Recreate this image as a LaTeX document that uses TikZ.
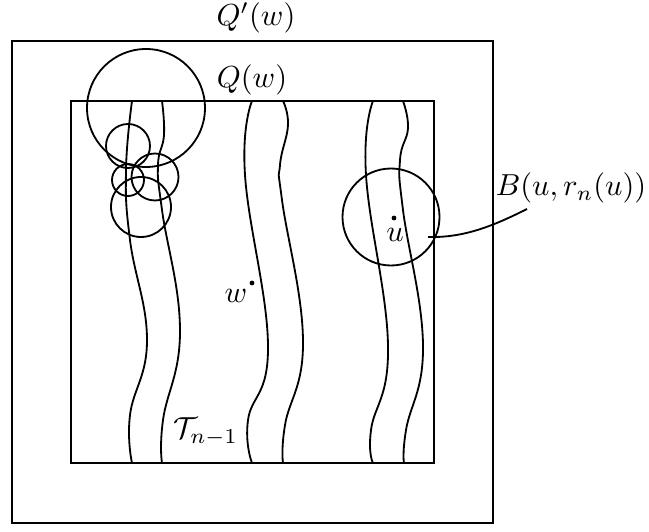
\documentclass[tikz,border=0pt]{standalone}
\usetikzlibrary{positioning}
\tikzset{
  cube/.style={semithick},
  tube/.style={semithick},
  ball/.style={semithick},
  spot/.style={fill},
  lbl/.style={inner sep=0pt}
}
\begin{document}
\begin{tikzpicture}[x=0.329pt,y=-0.329pt]
  \useasboundingbox (0,0) rectangle (649,532);
  % the two squares
  \draw[cube] (12,41) rectangle (493,523);
  \draw[cube] (71,101) rectangle (434,463);
  \node[lbl] (qouter) at (256,18) {$Q'(w)$};
  \node[lbl] (qinner) at (252,80) {$Q(w)$};
  % tubes
  \draw[tube] plot[smooth, tension=0.75] coordinates {(132,101) (126,170) (130,240) (147,340) (130,415) (132,463)};
  \draw[tube] plot[smooth, tension=0.75] coordinates {(162,101) (164,135) (158,165) (162,210) (180,330) (163,420) (162,463)};
  \draw[tube] plot[smooth, tension=0.75] coordinates {(252,101) (245,175) (268,345) (248,420) (252,463)};
  \draw[tube] plot[smooth, tension=0.75] coordinates {(283,101) (288,125) (280,165) (282,200) (303,340) (285,425) (283,463)};
  \draw[tube] plot[smooth, tension=0.75] coordinates {(373,101) (366,175) (388,345) (371,430) (373,463)};
  \draw[tube] plot[smooth, tension=0.75] coordinates {(403,101) (408,128) (400,160) (403,210) (423,345) (406,430) (404,463)};
  % chain of balls
  \draw[ball] (146,108) circle (59);
  \draw[ball] (128,146) circle (22);
  \draw[ball] (128,180) circle (16);
  \draw[ball] (155,177) circle (23.5);
  \draw[ball] (141,207) circle (30);
  % the ball around u
  \draw[ball] (391,217) circle (48.5);
  \fill[spot] (394,218) circle (2.4);
  \node[lbl, anchor=base] (ulbl) at (395,242) {$u$};
  \fill[spot] (252,283) circle (2.4);
  \node[lbl, anchor=base] (wlbl) at (236,303) {$w$};
  \node[lbl] (tlbl) at (206,432) {$\mathcal{T}_{n-1}$};
  \node[lbl] (blbl) at (571,188) {$B(u,r_n(u))$};
  \coordinate (bstart) at (428,237);
  \coordinate (bend) at (527,209);
  \draw[tube] (bstart) .. controls (465,238) and (495,225) .. (bend);
\end{tikzpicture}
\end{document}
